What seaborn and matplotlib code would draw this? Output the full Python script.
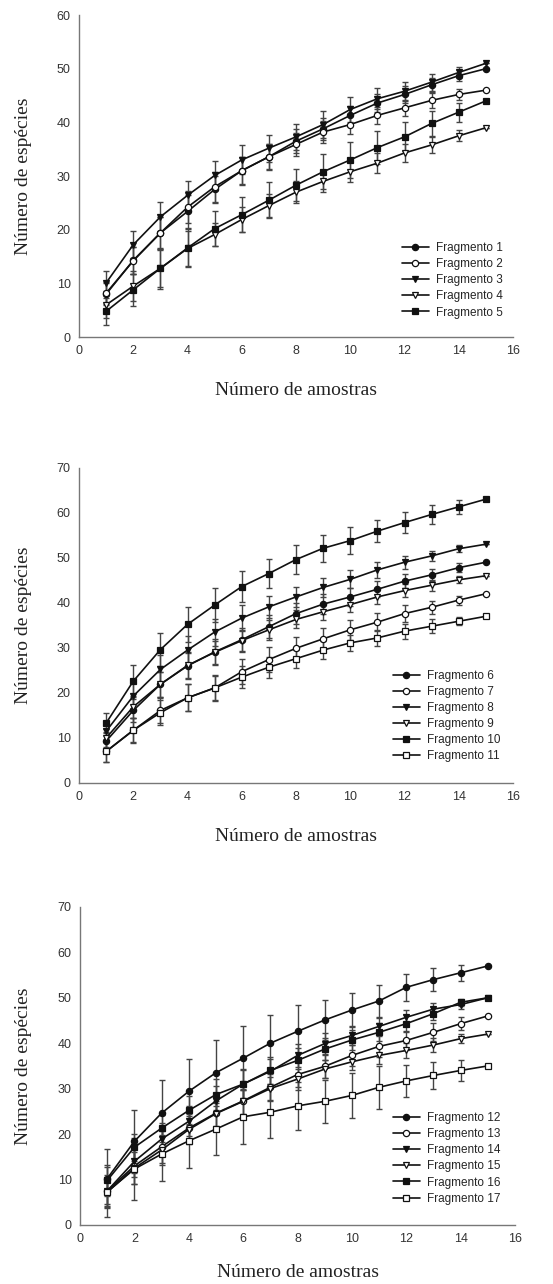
import numpy as np
import matplotlib
matplotlib.use('Agg')
import matplotlib.pyplot as plt
import seaborn as sns

amostras = [1, 2, 3, 4, 5, 6, 7, 8, 9, 10, 11, 12, 13, 14, 15]

# painel 1
frag1 = [8.0, 14.3, 19.4, 23.4, 27.5, 31.0, 33.6, 36.5, 38.8, 41.3, 43.6, 45.2, 47.0, 48.7, 50.0]
frag2 = [8.2, 14.2, 19.4, 24.2, 28.0, 31.0, 33.6, 35.9, 38.2, 39.6, 41.3, 42.7, 44.1, 45.2, 46.0]
frag3 = [10.1, 17.2, 22.4, 26.4, 30.1, 33.0, 35.2, 37.3, 39.6, 42.4, 44.4, 45.8, 47.5, 49.3, 51.0]
frag4 = [6.0, 9.5, 12.8, 16.5, 19.1, 21.9, 24.5, 27.0, 29.0, 30.8, 32.4, 34.3, 35.8, 37.5, 39.0]
frag5 = [4.8, 8.8, 12.8, 16.6, 20.2, 22.8, 25.5, 28.3, 30.8, 33.0, 35.3, 37.3, 39.8, 41.9, 44.0]
dp1 = [2.0, 2.5, 3.0, 3.0, 2.5, 2.5, 2.3, 2.3, 2.0, 1.8, 1.6, 1.5, 1.3, 1.0, 0.0]
dp2 = [2.0, 2.5, 3.0, 3.0, 2.8, 2.6, 2.4, 2.2, 2.0, 1.8, 1.6, 1.5, 1.4, 1.0, 0.0]
dp3 = [2.2, 2.5, 2.7, 2.7, 2.7, 2.7, 2.5, 2.4, 2.5, 2.3, 2.0, 1.8, 1.6, 1.0, 0.0]
dp4 = [2.5, 2.8, 3.5, 3.2, 2.2, 2.3, 2.2, 2.0, 2.0, 2.0, 1.9, 1.6, 1.5, 1.0, 0.0]
dp5 = [2.5, 3.0, 3.8, 3.5, 3.3, 3.3, 3.3, 3.0, 3.3, 3.3, 3.0, 2.7, 2.3, 1.8, 0.0]

# painel 2
frag6 = [9.3, 16.1, 21.9, 26.0, 29.1, 31.8, 34.7, 37.6, 39.7, 41.3, 43.0, 44.8, 46.2, 47.8, 49.0]
frag7 = [7.0, 11.7, 16.1, 18.9, 21.1, 24.7, 27.4, 29.9, 32.0, 34.0, 35.7, 37.6, 39.0, 40.6, 42.0]
frag8 = [11.5, 19.3, 25.2, 29.5, 33.5, 36.6, 39.1, 41.3, 43.4, 45.2, 47.3, 49.0, 50.4, 52.0, 53.0]
frag9 = [10.0, 16.9, 21.9, 26.1, 29.0, 31.6, 34.0, 36.3, 38.0, 39.6, 41.3, 42.7, 43.9, 45.1, 46.0]
frag10 = [13.3, 22.6, 29.6, 35.2, 39.5, 43.6, 46.5, 49.6, 52.1, 53.8, 55.9, 57.8, 59.6, 61.3, 63.0]
frag11 = [7.0, 11.7, 15.6, 18.9, 21.1, 23.5, 25.7, 27.6, 29.5, 31.1, 32.2, 33.7, 34.8, 35.9, 37.0]
dp6 = [2.0, 2.5, 2.8, 3.0, 2.8, 2.7, 2.5, 2.3, 2.2, 2.0, 1.8, 1.6, 1.4, 1.0, 0.0]
dp7 = [2.3, 2.7, 2.8, 3.0, 2.8, 2.8, 2.7, 2.5, 2.3, 2.2, 2.0, 1.8, 1.5, 1.0, 0.0]
dp8 = [2.0, 3.0, 3.2, 3.2, 3.0, 2.8, 2.5, 2.3, 2.2, 2.0, 1.8, 1.4, 1.2, 0.8, 0.0]
dp9 = [2.0, 2.5, 2.8, 2.8, 2.5, 2.3, 2.2, 2.0, 1.8, 1.6, 1.5, 1.4, 1.2, 0.8, 0.0]
dp10 = [2.2, 3.5, 3.7, 3.8, 3.7, 3.4, 3.3, 3.2, 3.0, 3.0, 2.5, 2.4, 2.2, 1.6, 0.0]
dp11 = [2.3, 2.8, 2.8, 3.0, 2.7, 2.4, 2.3, 2.0, 2.0, 1.8, 1.7, 1.7, 1.5, 0.9, 0.0]

# painel 3
frag12 = [10.2, 18.4, 24.6, 29.4, 33.5, 36.7, 40.0, 42.6, 45.1, 47.3, 49.3, 52.3, 54.0, 55.5, 57.0]
frag13 = [7.5, 13.0, 17.2, 21.3, 24.6, 27.3, 30.3, 33.1, 34.9, 37.3, 39.3, 40.6, 42.4, 44.3, 46.0]
frag14 = [7.5, 14.0, 18.9, 22.8, 27.3, 31.0, 33.8, 37.3, 39.9, 41.7, 43.7, 45.7, 47.5, 48.5, 50.0]
frag15 = [7.2, 12.5, 16.5, 21.0, 24.5, 27.2, 30.0, 32.1, 34.3, 35.9, 37.3, 38.4, 39.6, 41.0, 42.0]
frag16 = [9.8, 17.1, 21.3, 25.2, 28.7, 31.0, 34.0, 36.2, 38.7, 40.7, 42.4, 44.3, 46.5, 49.0, 50.0]
frag17 = [7.3, 12.3, 15.6, 18.5, 21.1, 23.8, 24.8, 26.2, 27.2, 28.5, 30.3, 31.7, 32.9, 34.0, 35.0]
dp12 = [6.5, 7.0, 7.2, 7.2, 7.3, 7.0, 6.3, 5.9, 4.5, 3.8, 3.5, 3.0, 2.6, 1.8, 0.0]
dp13 = [3.5, 4.0, 3.5, 3.5, 3.5, 3.2, 3.0, 2.8, 2.5, 2.4, 2.3, 2.1, 2.0, 1.5, 0.0]
dp14 = [3.0, 3.5, 3.5, 3.3, 3.2, 3.0, 2.8, 2.5, 2.3, 2.0, 1.8, 1.6, 1.4, 1.0, 0.0]
dp15 = [3.0, 3.5, 3.3, 3.0, 2.8, 2.7, 2.5, 2.3, 2.0, 1.9, 1.8, 1.6, 1.5, 1.0, 0.0]
dp16 = [3.5, 3.0, 3.0, 3.2, 3.5, 3.3, 3.0, 2.8, 2.5, 2.3, 2.0, 1.8, 1.5, 0.8, 0.0]
dp17 = [5.5, 6.8, 6.0, 6.0, 5.8, 6.0, 5.6, 5.2, 4.8, 5.0, 4.7, 3.5, 3.0, 2.3, 0.0]

# (marcador, preenchido)
estilos = [('o', True), ('o', False), ('v', True), ('v', False), ('s', True), ('s', False)]


def desenhaPainel(ax, series, desvios, nomes, ymax, legX, legY, labelY):
    for i in range(len(series)):
        marcador, cheio = estilos[i]
        ax.errorbar(amostras, series[i], yerr=desvios[i], fmt='none', ecolor='#444444',
                    elinewidth=1.0, capsize=2.5, capthick=1.0, zorder=2)
        sns.lineplot(x=amostras, y=series[i], ax=ax, color='#111111', linewidth=1.2,
                     marker=marcador, markersize=4.5,
                     markerfacecolor='#111111' if cheio else 'white',
                     markeredgecolor='#111111', markeredgewidth=0.9,
                     label=nomes[i], zorder=3)

    ax.set_xlim(0, 16)
    ax.set_ylim(0, ymax)
    ax.set_xticks(np.arange(0, 17, 2))
    ax.set_yticks(np.arange(0, ymax + 1, 10))
    for lado in ['top', 'right']:
        ax.spines[lado].set_visible(False)
    for lado in ['left', 'bottom']:
        ax.spines[lado].set_color('#777777')
        ax.spines[lado].set_linewidth(1.0)
    ax.tick_params(direction='out', length=3, width=1, color='#777777',
                   labelsize=9, labelcolor='#333333', pad=3)
    for t in ax.get_xticklabels() + ax.get_yticklabels():
        t.set_family('Liberation Sans')

    ax.set_xlabel('Número de amostras', family='Liberation Serif', fontsize=14, color='#222222')
    ax.set_ylabel('Número de espécies', family='Liberation Serif', fontsize=14, color='#222222')
    ax.xaxis.set_label_coords(0.5, labelY)
    ax.xaxis.label.set_va('center')
    ax.yaxis.set_label_coords(-0.129, 0.5)
    ax.yaxis.label.set_va('center')

    ax.legend(loc='upper left', bbox_to_anchor=(legX, legY), frameon=False,
              prop={'family': 'Liberation Sans', 'size': 8.5}, handlelength=2.3,
              handletextpad=0.6, labelspacing=0.35, borderpad=0, borderaxespad=0)
    ax.grid(False)


sns.set_style('white')
fig = plt.figure(figsize=(5.53, 12.84), dpi=100)
ax1 = fig.add_axes([0.1429, 0.7375, 0.7848, 0.2508])
ax2 = fig.add_axes([0.1429, 0.3902, 0.7848, 0.2456])
ax3 = fig.add_axes([0.1447, 0.0460, 0.7866, 0.2477])

desenhaPainel(ax1, [frag1, frag2, frag3, frag4, frag5], [dp1, dp2, dp3, dp4, dp5],
              ['Fragmento 1', 'Fragmento 2', 'Fragmento 3', 'Fragmento 4', 'Fragmento 5'],
              60, 0.744, 0.295, -0.165)
desenhaPainel(ax2, [frag6, frag7, frag8, frag9, frag10, frag11],
              [dp6, dp7, dp8, dp9, dp10, dp11],
              ['Fragmento 6', 'Fragmento 7', 'Fragmento 8', 'Fragmento 9', 'Fragmento 10', 'Fragmento 11'],
              70, 0.723, 0.359, -0.17)
desenhaPainel(ax3, [frag12, frag13, frag14, frag15, frag16, frag17],
              [dp12, dp13, dp14, dp15, dp16, dp17],
              ['Fragmento 12', 'Fragmento 13', 'Fragmento 14', 'Fragmento 15', 'Fragmento 16', 'Fragmento 17'],
              70, 0.719, 0.355, -0.148)

fig.savefig('out.png', dpi=100, facecolor='white')
